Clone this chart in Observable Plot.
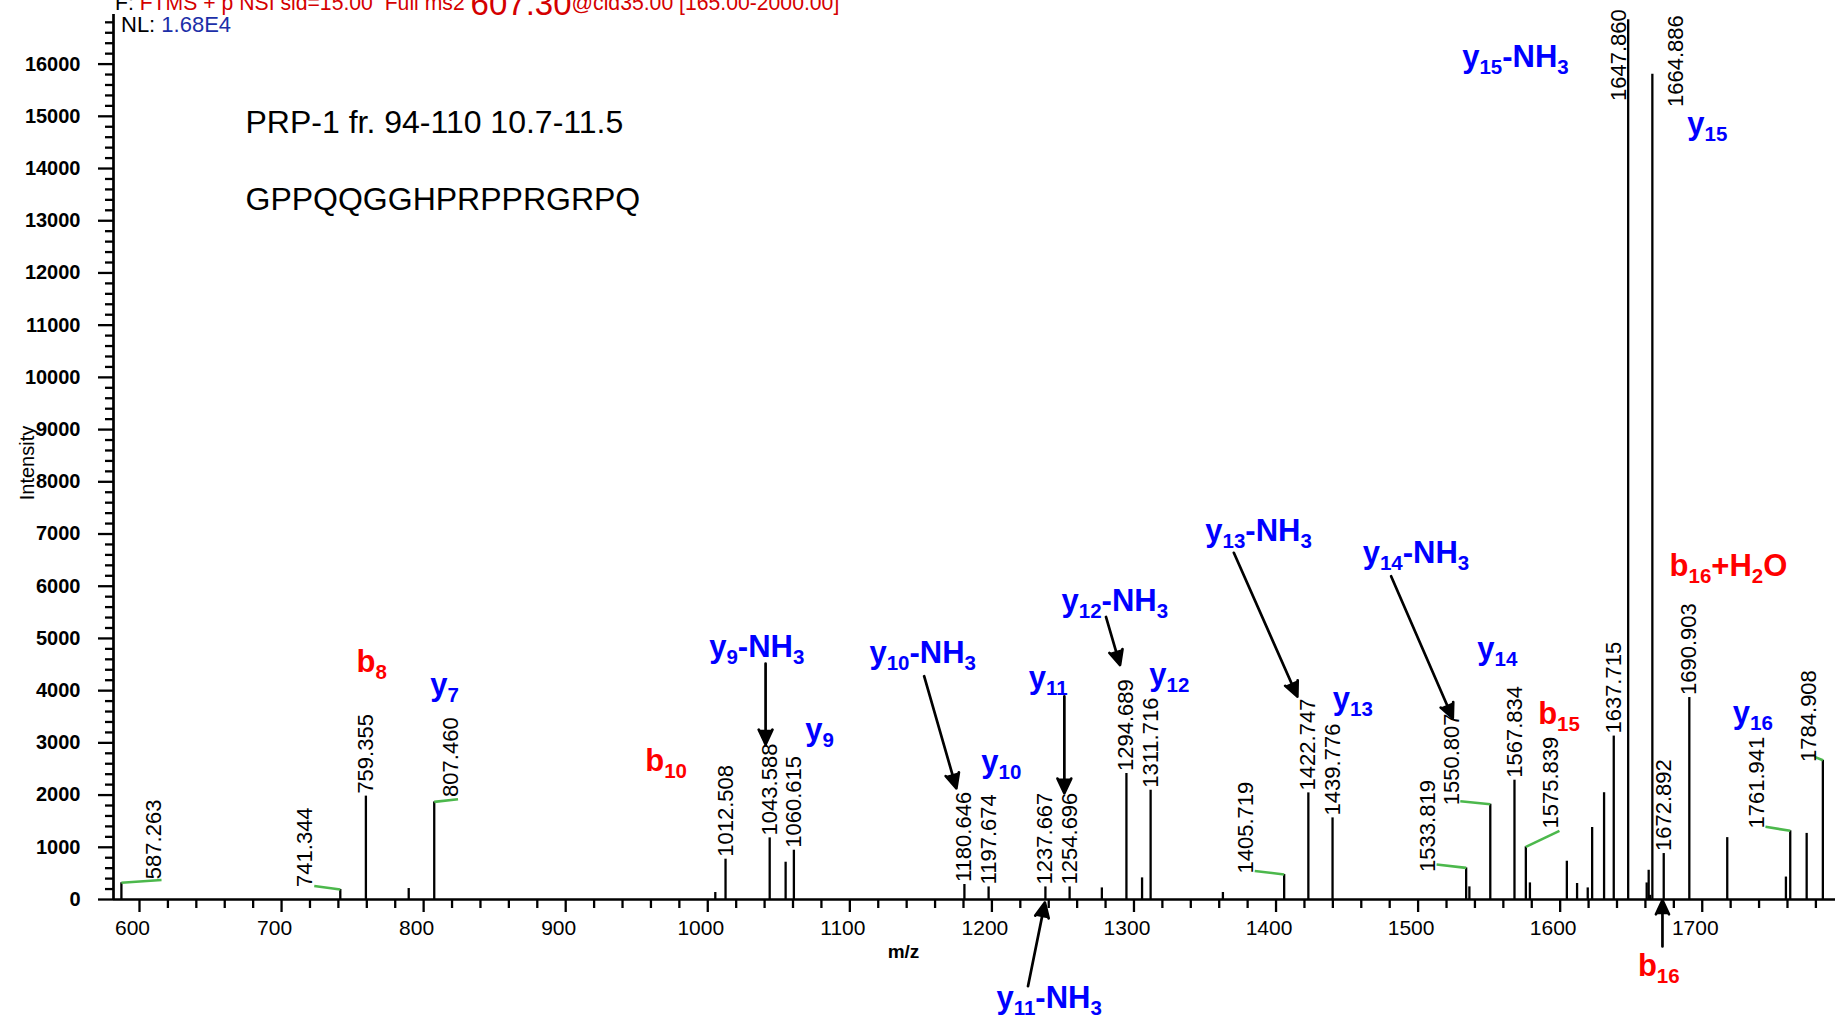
<!DOCTYPE html>
<html><head><meta charset="utf-8">
<script src="https://cdn.jsdelivr.net/npm/d3@7"></script>
<script src="https://cdn.jsdelivr.net/npm/@observablehq/plot@0.6"></script>
<style>
html,body{margin:0;padding:0;background:#fff;}
#chart{position:relative;width:1843px;height:1025px;overflow:hidden;}
</style></head>
<body><div id="chart"></div>
<script>
const FONT = "'Liberation Sans', Arial, Helvetica, sans-serif";

// ---- data ----
const peakMz = [587.263, 741.344, 759.355, 789.5, 807.460, 1005.3, 1012.508, 1043.588, 1054.8, 1060.615,
  1180.646, 1197.674, 1237.667, 1254.696, 1277.4, 1294.689, 1305.7, 1311.716, 1362.6, 1405.719,
  1422.747, 1439.776, 1533.819, 1536.1, 1550.807, 1567.834, 1575.839, 1578.7, 1604.7, 1611.9,
  1619.4, 1622.5, 1630.9, 1637.715, 1647.860, 1660.9, 1662.3, 1663.3, 1664.886, 1672.892,
  1690.903, 1717.6, 1758.9, 1761.941, 1773.5, 1784.908];
const peakIntensity = [320, 191, 1980, 210, 1869, 134, 772, 1180, 714, 944,
  287, 241, 241, 241, 222, 2413, 414, 2093, 134, 478,
  2042, 1563, 605, 242, 1825, 2285, 1008, 318, 733, 306,
  222, 1379, 2045, 3130, 16849, 317, 560, 80, 15808, 880,
  3868, 1185, 430, 1316, 1266, 2667];

// peaks labelled directly above their top
const labeledPeakMz = [759.355, 1012.508, 1043.588, 1060.615, 1180.646, 1197.674, 1237.667, 1254.696,
  1294.689, 1311.716, 1422.747, 1439.776, 1567.834, 1637.715, 1672.892, 1690.903];

// peak labels moved aside (label centre m/z, label base intensity)
const movedLabelText = ["587.263", "741.344", "807.460", "1405.719", "1533.819", "1550.807", "1575.839", "1761.941", "1784.908", "1647.860", "1664.886"];
const movedLabelMz = [610.0, 716.5, 818.9, 1379.0, 1506.7, 1524.0, 1593.7, 1738.7, 1774.9, 1641.4, 1681.5];
const movedLabelBase = [390, 241, 1965, 498, 529, 1806, 1359, 1359, 2635, 15293, 15178];

// green leader lines: label end -> peak top
const leaderFromMz = [615.5, 723.0, 824.2, 1385.0, 1513.0, 1529.7, 1599.5, 1744.5, 1779.1];
const leaderFromI = [372, 258, 1921, 547, 670, 1882, 1314, 1392, 2731];
const leaderToMz = [587.263, 741.344, 807.460, 1405.719, 1533.819, 1550.807, 1575.839, 1761.941, 1784.908];
const leaderToI = [320, 191, 1869, 478, 605, 1825, 1008, 1316, 2667];

// fragment ion annotations (left edge m/z, centre intensity)
const ionLabelText = ["y_15-NH_3", "y_15", "b_16+H_2O", "y_16", "b_15", "y_14", "y_14-NH_3", "y_13-NH_3", "y_13",
  "y_12-NH_3", "y_12", "y_11", "y_10-NH_3", "y_10", "y_9-NH_3", "y_9", "b_10", "b_8", "y_7", "y_11-NH_3", "b_16"];
const ionLabelMz = [1531, 1689.5, 1677, 1721.5, 1584.5, 1541.7, 1461, 1350.2, 1440,
  1249, 1310.8, 1226, 1113.8, 1192.5, 1001, 1068.6, 956, 752.8, 804.7, 1203.2, 1654.7];
const ionLabelI = [16050, 14770, 6315, 3490, 3470, 4720, 6550, 6980, 3770,
  5640, 4230, 4170, 4650, 2550, 4760, 3170, 2570, 4465, 4030, -1960, -1345];

// arrows pointing at peaks
const arrowFromMz = [1040.7, 1152.3, 1251.0, 1225.4, 1280.3, 1370.3, 1481.0, 1672.0];
const arrowFromI = [4520, 4277, 3890, -1660, 5412, 6640, 6191, -900];
const arrowToMz = [1040.7, 1175.0, 1251.0, 1237.3, 1290.2, 1415.0, 1524.4, 1672.0];
const arrowToI = [2972, 2130, 2035, -60, 4490, 3888, 3470, -15];

const xDomain = [581.7, 1793.8];
const yDomain = [0, 16950];
const xMajorTicks = d3.range(600, 1701, 100);
const xMinorTicks = d3.range(620, 1781, 20).filter(v => v % 100 !== 0);
const yMajorTicks = d3.range(0, 16001, 1000);
const yMinorTicks = d3.range(200, 16801, 200).filter(v => v % 1000 !== 0);

// ---- tables ----
const peaks = peakMz.map((mz, k) => ({mz, i: peakIntensity[k]}));
const labeledPeaks = labeledPeakMz.map(mz => peaks.find(p => p.mz === mz));
const movedLabels = movedLabelText.map((t, k) => ({t, mz: movedLabelMz[k], i: movedLabelBase[k]}));
const leaders = leaderFromMz.map((m, k) => ({x1: m, y1: leaderFromI[k], x2: leaderToMz[k], y2: leaderToI[k]}));
const ions = ionLabelText.map((t, k) => ({t, mz: ionLabelMz[k], i: ionLabelI[k], c: t[0] === "b" ? "#ff0000" : "#0000ff"}));
const arrows = arrowFromMz.map((m, k) => ({x1: m, y1: arrowFromI[k], x2: arrowToMz[k], y2: arrowToI[k]}));

const chart = Plot.plot({
  width: 1843, height: 1025,
  marginLeft: 113, marginRight: 8, marginTop: 14, marginBottom: 126,
  style: {fontFamily: FONT, background: "white", color: "black", overflow: "visible"},
  x: {domain: xDomain, label: null},
  y: {domain: yDomain, label: null},
  color: {type: "identity"},
  marks: [
    // axes
    Plot.axisY({ticks: yMinorTicks, tickSize: 8, tickFormat: () => "", strokeWidth: 2.3, label: null}),
    Plot.axisY({ticks: yMajorTicks, tickSize: 15, tickFormat: () => "", strokeWidth: 2.3, label: null}),
    Plot.axisY({ticks: yMajorTicks, tickSize: 0, tickPadding: 33, tickFormat: d => String(d), fontSize: 20, fontWeight: "bold", label: null}),
    Plot.axisX({ticks: xMinorTicks, tickSize: 9, tickFormat: () => "", strokeWidth: 2.3, label: null}),
    Plot.axisX({ticks: xMajorTicks, tickSize: 13, tickFormat: () => "", strokeWidth: 2.3, label: null}),
    Plot.axisX({ticks: xMajorTicks, tickSize: 0, tickPadding: 21, dx: -7, tickFormat: d => String(d), fontSize: 21, label: null}),
    Plot.ruleY([0], {strokeWidth: 2.7}),
    Plot.ruleX([xDomain[0]], {strokeWidth: 2.7}),
    Plot.text(["Intensity"], {frameAnchor: "left", rotate: -90, dx: -86, dy: 6, textAnchor: "middle", lineAnchor: "middle", fontSize: 20}),
    Plot.text(["m/z"], {frameAnchor: "bottom", dx: -71, dy: 52, textAnchor: "middle", lineAnchor: "middle", fontSize: 19, fontWeight: "bold"}),
    // sample text
    Plot.text(["PRP-1 fr. 94-110 10.7-11.5"], {frameAnchor: "top-left", dx: 132, dy: 118.7, textAnchor: "start", lineAnchor: "bottom", fontSize: 32}),
    Plot.text(["GPPQQGGHPRPPRGRPQ"], {frameAnchor: "top-left", dx: 132, dy: 195.3, textAnchor: "start", lineAnchor: "bottom", fontSize: 32}),
    // spectrum
    Plot.ruleX(peaks, {x: "mz", y1: 0, y2: "i", stroke: "black", strokeWidth: 2.3}),
    Plot.link(leaders, {x1: "x1", y1: "y1", x2: "x2", y2: "y2", stroke: "#4cb84c", strokeWidth: 2.6}),
    Plot.text(labeledPeaks, {x: "mz", y: "i", text: d => d.mz.toFixed(3), rotate: -90, textAnchor: "start", lineAnchor: "middle", dy: -2.5, fontSize: 22}),
    Plot.text(movedLabels, {x: "mz", y: "i", text: "t", rotate: -90, textAnchor: "start", lineAnchor: "middle", fontSize: 22}),
    Plot.arrow(arrows, {x1: "x1", y1: "y1", x2: "x2", y2: "y2", stroke: "black", fill: "black", strokeWidth: 2.7, headLength: 9, headAngle: 50}),
    Plot.text(ions, {x: "mz", y: "i", text: "t", fill: "c", textAnchor: "start", lineAnchor: "middle", dy: -4, fontSize: 31, fontWeight: "bold"})
  ]
});

document.getElementById("chart").appendChild(chart);

// subscripts in ion labels: "_n" becomes a lowered, smaller tspan
d3.select(chart).selectAll("text").each(function () {
  const el = this;
  const targets = el.querySelector("tspan") ? Array.from(el.querySelectorAll("tspan")) : [el];
  targets.forEach(node => {
    const s = node.textContent;
    if (!/_\d/.test(s)) return;
    const parts = s.split(/_(\d+)/);
    node.textContent = "";
    let shifted = false;
    parts.forEach((p, k) => {
      if (!p) return;
      const ts = document.createElementNS("http://www.w3.org/2000/svg", "tspan");
      ts.textContent = p;
      if (k % 2 === 1) { ts.setAttribute("font-size", 20.5); ts.setAttribute("dy", 7); shifted = true; }
      else if (shifted) { ts.setAttribute("dy", -7); shifted = false; }
      node.appendChild(ts);
    });
  });
});

// instrument header lines
const svg = d3.select(chart);
const hdr = svg.append("text").attr("x", 115).attr("y", 9.5).attr("font-size", 21.2)
  .attr("text-anchor", "start").attr("font-family", FONT).style("white-space", "pre");
hdr.append("tspan").attr("fill", "#000").text("F: ");
hdr.append("tspan").attr("fill", "#d40000").text("FTMS + p NSI sid=15.00  Full ms2 ");
hdr.append("tspan").attr("fill", "#d40000").attr("font-size", 33).attr("dy", 5).text("607.30");
hdr.append("tspan").attr("fill", "#d40000").attr("dy", -5).text("@cid35.00 [165.00-2000.00]");
const nl = svg.append("text").attr("x", 121).attr("y", 31.5).attr("font-size", 22)
  .attr("text-anchor", "start").attr("font-family", FONT).style("white-space", "pre");
nl.append("tspan").attr("fill", "#000").text("NL: ");
nl.append("tspan").attr("fill", "#1c2fa8").text("1.68E4");
</script></body></html>
